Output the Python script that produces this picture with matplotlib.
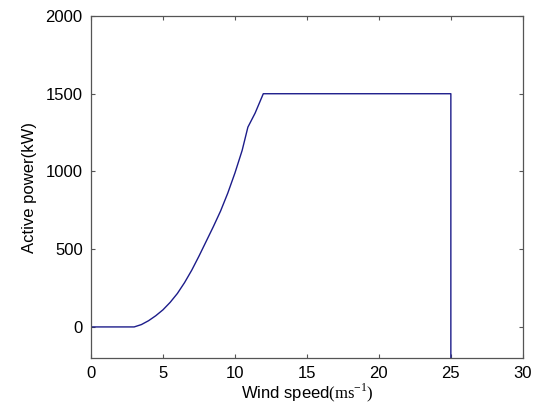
import matplotlib
matplotlib.use("Agg")
import matplotlib.pyplot as plt

plt.rcParams['font.family'] = ['Liberation Sans', 'DejaVu Sans']
plt.rcParams['mathtext.fontset'] = 'custom'
plt.rcParams['mathtext.rm'] = 'Liberation Serif'

wind_speed = [0, 3, 3.5, 4, 4.5, 5, 5.5, 6, 6.5, 7, 7.5, 8, 8.5, 9, 9.5, 10, 10.5, 10.9, 11.4, 11.97, 25, 25]
power_kw = [0, 0, 15, 40, 72, 110, 158, 215, 285, 365, 455, 550, 645, 745, 860, 990, 1135, 1285, 1375, 1500, 1500, -200]

xticks = [0, 5, 10, 15, 20, 25, 30]
yticks = [0, 500, 1000, 1500, 2000]

fig = plt.figure(figsize=(5.39, 4.05), dpi=100)
ax = fig.add_axes([0.1688, 0.116, 0.970 - 0.1688, 0.9605 - 0.116])
ax.plot(wind_speed, power_kw, color='#1c1c8a', linewidth=1.0)
ax.set_xlim(0, 30)
ax.set_ylim(-200, 2000)
ax.set_xticks(xticks)
ax.set_yticks(yticks)
ax.tick_params(direction='in', top=True, right=True, labelsize=12, length=3, color='#555555', pad=6)
for s in ax.spines.values():
    s.set_color('#555555')
    s.set_linewidth(0.9)
ax.set_xlabel(r'Wind speed$(\mathrm{ms}^{-1})$', fontsize=12, labelpad=0)
ax.set_ylabel('Active power(kW)', fontsize=12, labelpad=6)
fig.savefig('out.png', dpi=100)
